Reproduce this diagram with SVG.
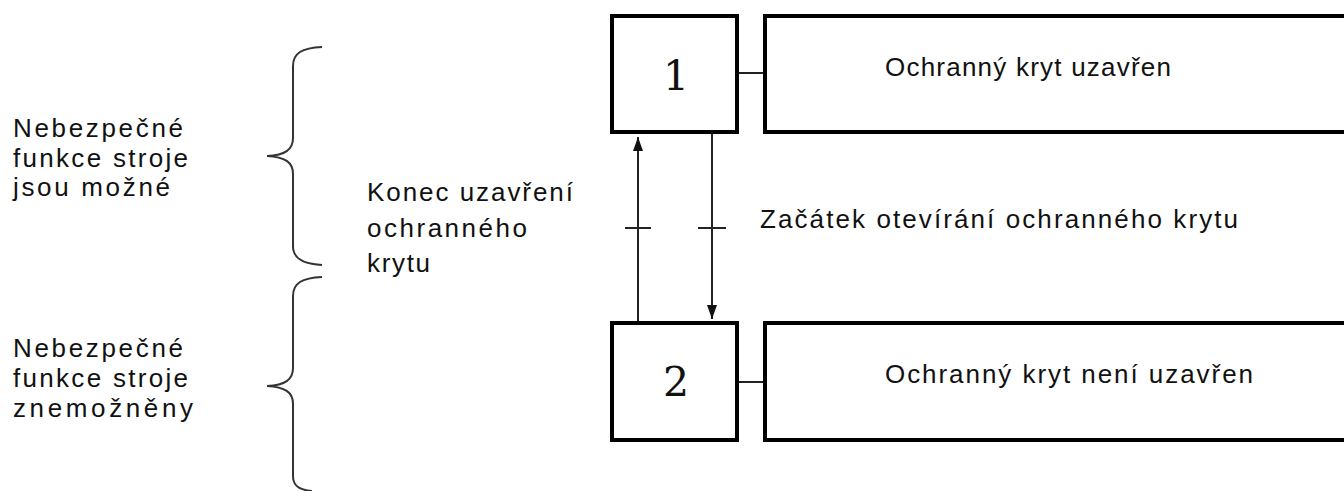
<svg xmlns="http://www.w3.org/2000/svg" width="1344" height="491" viewBox="0 0 1344 491">
<style>
.box{fill:#fff;stroke:#000;stroke-width:4}
.ln{stroke:#222;stroke-width:2;fill:none}
.br{stroke:#333;stroke-width:2;fill:none}
.t{font-family:"Liberation Sans",Arial,sans-serif;font-size:26px;fill:#111}
.n{font-family:"DejaVu Serif","Liberation Serif",serif;font-size:41px;fill:#111;text-anchor:middle}
</style>
<defs>
<marker id="ah" markerWidth="14" markerHeight="10" refX="14" refY="5" orient="auto" markerUnits="userSpaceOnUse" viewBox="0 0 14 10">
<path d="M0,0 L14,5 L0,10 Z" fill="#111"/>
</marker>
</defs>
<rect width="1344" height="491" fill="#fff"/>
<g id="connectors">
<line class="ln" x1="638" y1="321" x2="638" y2="137" marker-end="url(#ah)"/>
<line class="ln" x1="712" y1="133" x2="712" y2="319" marker-end="url(#ah)"/>
<line class="ln" x1="625" y1="228" x2="651" y2="228"/>
<line class="ln" x1="698" y1="228" x2="726" y2="228"/>
<line class="ln" x1="738" y1="73" x2="763" y2="73"/>
<line class="ln" x1="738" y1="382" x2="763" y2="382"/>
</g>
<g id="node1">
<rect class="box" x="612" y="16" width="125" height="116"/>
<text class="n" x="676" y="90">1</text>
</g>
<g id="node1-label">
<rect class="box" x="765" y="16" width="590" height="116"/>
<text class="t" x="885" y="76" textLength="286" lengthAdjust="spacing">Ochranný kryt uzavřen</text>
</g>
<g id="node2">
<rect class="box" x="612" y="323" width="125" height="117"/>
<text class="n" x="676" y="396">2</text>
</g>
<g id="node2-label">
<rect class="box" x="765" y="323" width="590" height="117"/>
<text class="t" x="885" y="383" textLength="368" lengthAdjust="spacing">Ochranný kryt není uzavřen</text>
</g>
<g id="trans-label">
<text class="t" x="760" y="228" textLength="478" lengthAdjust="spacing">Začátek otevírání ochranného krytu</text>
</g>
<g id="konec-label">
<text class="t" x="367" y="201" textLength="206" lengthAdjust="spacing">Konec uzavření</text>
<text class="t" x="367" y="237" textLength="160" lengthAdjust="spacing">ochranného</text>
<text class="t" x="367" y="272" textLength="63" lengthAdjust="spacing">krytu</text>
</g>
<g id="brace-top">
<path class="br" d="M322,47 C302,48 293,53 293,66 L293,138 C293,150 285,155 267,156 C285,157 293,162 293,174 L293,246 C293,258 302,264 322,265"/>
<text class="t" x="13" y="137" textLength="170" lengthAdjust="spacing">Nebezpečné</text>
<text class="t" x="13" y="167" textLength="175" lengthAdjust="spacing">funkce stroje</text>
<text class="t" x="13" y="196" textLength="157" lengthAdjust="spacing">jsou možné</text>
</g>
<g id="brace-bottom">
<path class="br" d="M322,277 C302,278 293,283 293,296 L293,368 C293,380 285,385 267,386 C285,387 293,392 293,404 L293,476 C293,485 298,490 312,491"/>
<text class="t" x="13" y="357" textLength="170" lengthAdjust="spacing">Nebezpečné</text>
<text class="t" x="13" y="387" textLength="175" lengthAdjust="spacing">funkce stroje</text>
<text class="t" x="13" y="417" textLength="180" lengthAdjust="spacing">znemožněny</text>
</g>
</svg>
